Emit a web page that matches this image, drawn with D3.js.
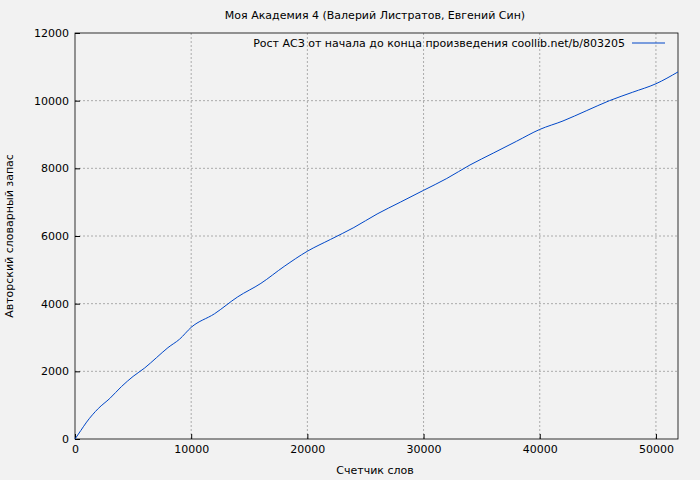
<!DOCTYPE html>
<html><head><meta charset="utf-8">
<script src="https://cdn.jsdelivr.net/npm/d3@7"></script>
<style>body{margin:0;background:#f2f2f2}text{font-family:"DejaVu Sans",sans-serif}</style>
</head><body><svg id="c" width="700" height="480"></svg>
<script>
// word counter vs vocabulary size
let words = [0,500,1000,2000,3000,4000,5000,6000,7000,8000,9000,10000,12000,14000,16000,18000,20000,22000,24000,26000,28000,30000,32000,34000,36000,38000,40000,42000,44000,46000,48000,50000,51900];
let vocab = [0,250,500,900,1200,1550,1850,2100,2400,2700,2950,3300,3700,4200,4600,5100,5550,5900,6250,6650,7000,7350,7700,8100,8450,8800,9150,9400,9700,10000,10250,10500,10850];
let xTicks = [0,10000,20000,30000,40000,50000];
let yTicks = [0,2000,4000,6000,8000,10000,12000];

let svg = d3.select("#c");
let m = {l:75, r:678, t:33, b:439};
let x = d3.scaleLinear().domain([0,51900]).range([m.l,m.r]);
let y = d3.scaleLinear().domain([0,12000]).range([m.b,m.t]);

svg.append("rect").attr("width",700).attr("height",480).attr("fill","#f2f2f2");

// grid
svg.selectAll(".gx").data(xTicks.slice(1)).enter().append("line")
  .attr("x1",d=>x(d)).attr("x2",d=>x(d)).attr("y1",m.t).attr("y2",m.b)
  .attr("stroke","#999").attr("stroke-dasharray","2,2").attr("stroke-width",0.8);
svg.selectAll(".gy").data(yTicks.slice(1,-1)).enter().append("line")
  .attr("x1",m.l).attr("x2",m.r).attr("y1",d=>y(d)).attr("y2",d=>y(d))
  .attr("stroke","#999").attr("stroke-dasharray","2,2").attr("stroke-width",0.8);

svg.append("rect").attr("x",m.l).attr("y",m.t).attr("width",m.r-m.l).attr("height",m.b-m.t)
  .attr("fill","none").attr("stroke","#000").attr("stroke-width",0.8);

let xa = svg.append("g").attr("transform","translate(0,"+m.b+")")
  .call(d3.axisBottom(x).tickValues(xTicks).tickSize(-5).tickPadding(6).tickFormat(d3.format("d")));
let ya = svg.append("g").attr("transform","translate("+m.l+",0)")
  .call(d3.axisLeft(y).tickValues(yTicks).tickSize(-5).tickPadding(6).tickFormat(d3.format("d")));
[xa,ya].forEach(a=>{a.select(".domain").remove();a.selectAll("text").attr("font-size",11).attr("fill","#000");});

svg.append("path").datum(words.map((w,i)=>[w,vocab[i]]))
  .attr("d",d3.line().x(d=>x(d[0])).y(d=>y(d[1])).curve(d3.curveMonotoneX))
  .attr("fill","none").attr("stroke","#0047c8").attr("stroke-width",1);

svg.append("text").attr("x",375).attr("y",19).attr("text-anchor","middle").attr("font-size",11)
  .text("Моя Академия 4 (Валерий Листратов, Евгений Син)");
svg.append("text").attr("x",375).attr("y",474).attr("text-anchor","middle").attr("font-size",11)
  .text("Счетчик слов");
svg.append("text").attr("transform","translate(13,236) rotate(-90)").attr("text-anchor","middle").attr("font-size",11)
  .text("Авторский словарный запас");
svg.append("text").attr("x",625).attr("y",47).attr("text-anchor","end").attr("font-size",11)
  .text("Рост АСЗ от начала до конца произведения coollib.net/b/803205");
svg.append("line").attr("x1",632).attr("x2",665).attr("y1",43).attr("y2",43).attr("stroke","#0047c8");
</script></body></html>
